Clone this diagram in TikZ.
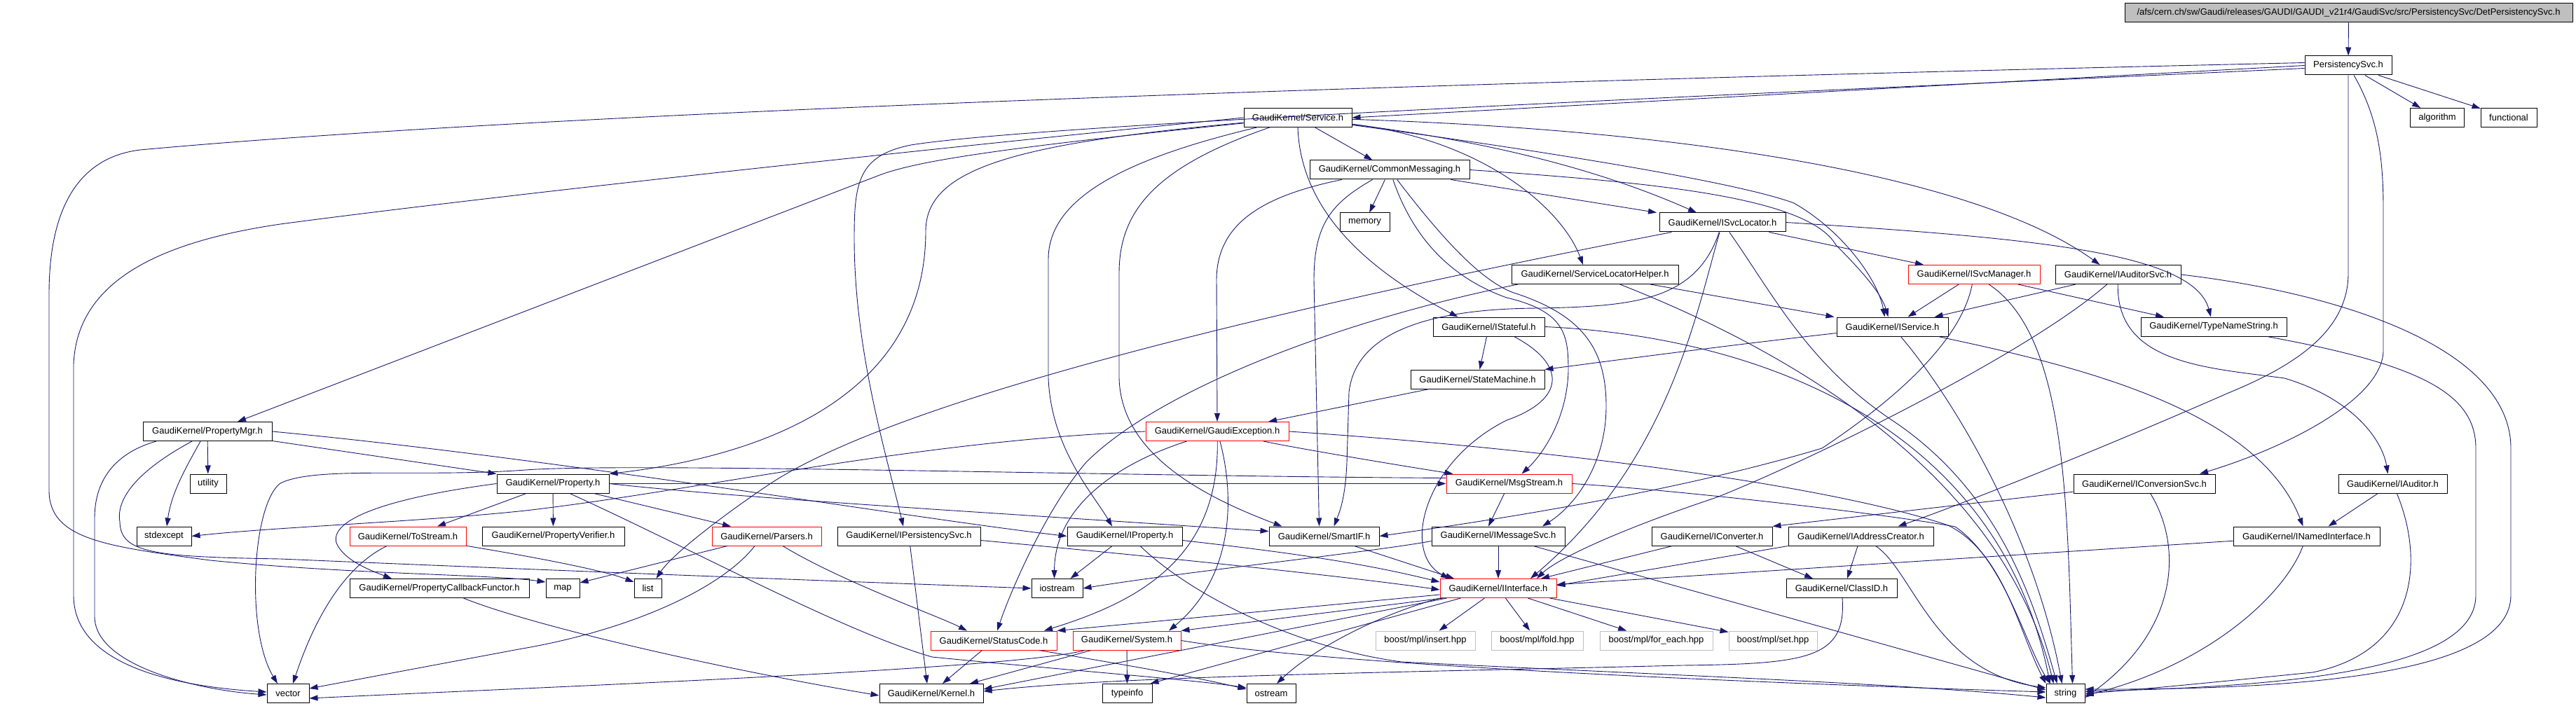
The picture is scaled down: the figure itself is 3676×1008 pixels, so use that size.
\documentclass[tikz,border=0pt]{standalone}
\usepackage{fontspec}
\setsansfont{Liberation Sans}
\usetikzlibrary{arrows.meta}
\definecolor{navy}{RGB}{25,25,112}
\definecolor{boostgray}{RGB}{191,191,191}
\tikzset{
  box/.style={draw=black, line width=1pt, minimum height=27pt, inner sep=0pt, font=\sffamily\fontsize{13}{15}\selectfont},
  redbox/.style={box, draw=red},
  boostbox/.style={box, draw=boostgray},
  dep/.style={draw=navy, line width=0.9pt, -{Triangle[length=12pt,width=8pt]}},
}

\begin{document}
\begin{tikzpicture}[x=1pt, y=-1pt]
\path[use as bounding box, fill=white] (0,0) rectangle (3676,1008);

% rank 0 to 3
\node[box, fill=boostgray, minimum width=639pt] (det) at (3351.5,18.5) {/afs/cern.ch/sw/Gaudi/releases/GAUDI/GAUDI\_v21r4/GaudiSvc/src/PersistencySvc/DetPersistencySvc.h};
\node[box, minimum width=124pt] (psvc) at (3351,93.5) {PersistencySvc.h};
\node[box, minimum width=77pt] (algo) at (3478,168) {algorithm};
\node[box, minimum width=80pt] (func) at (3580,168) {functional};
\node[box, minimum width=154pt] (svc) at (1852,168) {GaudiKernel/Service.h};
\node[box, minimum width=228pt] (cmsg) at (1983,242.5) {GaudiKernel/CommonMessaging.h};
\node[box, minimum width=71pt] (memory) at (1947.5,317.5) {memory};
\node[box, minimum width=180pt] (isvcloc) at (2458,317.5) {GaudiKernel/ISvcLocator.h};
\node[box, minimum width=238pt] (slh) at (2276,392) {GaudiKernel/ServiceLocatorHelper.h};
\node[redbox, minimum width=188pt] (isvcmgr) at (2817,392) {GaudiKernel/ISvcManager.h};
\node[box, minimum width=179pt] (iaudsvc) at (3022.5,392) {GaudiKernel/IAuditorSvc.h};
\node[box, minimum width=159pt] (istateful) at (2124.5,466.5) {GaudiKernel/IStateful.h};
\node[box, minimum width=159pt] (iservice) at (2700.5,466.5) {GaudiKernel/IService.h};
\node[box, minimum width=208pt] (tns) at (3159,466.5) {GaudiKernel/TypeNameString.h};
\node[box, minimum width=191pt] (statem) at (2108.5,541.5) {GaudiKernel/StateMachine.h};
\node[box, minimum width=184pt] (propmgr) at (296,616) {GaudiKernel/PropertyMgr.h};
\node[redbox, minimum width=204pt] (gexc) at (1737,616) {GaudiKernel/GaudiException.h};
\node[box, minimum width=52pt] (utility) at (297,690.5) {utility};
\node[box, minimum width=160pt] (prop) at (789,690.5) {GaudiKernel/Property.h};
\node[redbox, minimum width=179pt] (msgs) at (2153.5,690.5) {GaudiKernel/MsgStream.h};
\node[box, minimum width=202pt] (iconvsvc) at (3060,690.5) {GaudiKernel/IConversionSvc.h};
\node[box, minimum width=155pt] (iaud) at (3414.5,690.5) {GaudiKernel/IAuditor.h};
\node[box, minimum width=78pt] (stdexc) at (234,765.5) {stdexcept};
\node[redbox, minimum width=166pt] (tostream) at (582,765.5) {GaudiKernel/ToStream.h};
\node[box, minimum width=203pt] (propver) at (789.5,765.5) {GaudiKernel/PropertyVerifier.h};
\node[redbox, minimum width=156pt] (parsers) at (1094,765.5) {GaudiKernel/Parsers.h};
\node[box, minimum width=204pt] (ipers) at (1297,765.5) {GaudiKernel/IPersistencySvc.h};
\node[box, minimum width=164pt] (iprop) at (1605,765.5) {GaudiKernel/IProperty.h};
\node[box, minimum width=157pt] (smartif) at (1889.5,765.5) {GaudiKernel/SmartIF.h};
\node[box, minimum width=190pt] (imsgsvc) at (2138,765.5) {GaudiKernel/IMessageSvc.h};
\node[box, minimum width=172pt] (iconv) at (2443,765.5) {GaudiKernel/IConverter.h};
\node[box, minimum width=207pt] (iaddr) at (2655.5,765.5) {GaudiKernel/IAddressCreator.h};
\node[box, minimum width=209pt] (inamed) at (3291.5,765.5) {GaudiKernel/INamedInterface.h};
\node[box, minimum width=256pt] (pcbf) at (627,840) {GaudiKernel/PropertyCallbackFunctor.h};
\node[box, minimum width=48pt] (map) at (803,840) {map};
\node[box, minimum width=39pt] (list) at (924.5,840) {list};
\node[box, minimum width=73pt] (iostream) at (1508.5,840) {iostream};
\node[redbox, minimum width=166pt] (iif) at (2138,840) {GaudiKernel/IInterface.h};
\node[box, minimum width=158pt] (classid) at (2628,840) {GaudiKernel/ClassID.h};
\node[redbox, minimum width=180pt] (statuscode) at (1418,914.5) {GaudiKernel/StatusCode.h};
\node[redbox, minimum width=154pt] (system) at (1608,914.5) {GaudiKernel/System.h};
\node[boostbox, minimum width=142pt] (insert) at (2034,914.5) {boost/mpl/insert.hpp};
\node[boostbox, minimum width=131pt] (fold) at (2193.5,914.5) {boost/mpl/fold.hpp};
\node[boostbox, minimum width=161pt] (foreach) at (2363.5,914.5) {boost/mpl/for\_each.hpp};
\node[boostbox, minimum width=126pt] (mplset) at (2530,914.5) {boost/mpl/set.hpp};
\node[box, minimum width=60pt] (vector) at (411,990) {vector};
\node[box, minimum width=148pt] (kernel) at (1329,990) {GaudiKernel/Kernel.h};
\node[box, minimum width=71pt] (typeinfo) at (1608.5,990) {typeinfo};
\node[box, minimum width=70pt] (ostream) at (1814,990) {ostream};
\node[box, minimum width=55pt] (string) at (2947.5,990) {string};

% PersistencySvc.h
\draw[dep] (det) -- (psvc);
\draw[dep] (psvc) -- (algo);
\draw[dep] (psvc) -- (func);
\draw[dep] (psvc.west) -- (svc.east);
\draw[dep] (psvc) .. controls (3395,170) and (3401,230) .. (3401,300) -- (3401,500) .. controls (3401,570) and (3260,640) .. ([xshift=79pt]iconvsvc.north);
\draw[dep] (psvc.south) -- (3351,390) .. controls (3351,470) and (3280,520) .. (3180,561) .. controls (3000,640) and (2800,720) .. ([xshift=53pt]iaddr.north);
\draw[dep] ([yshift=-4pt]psvc.west) .. controls (2600,130) and (1500,175) .. (1300,207) .. controls (1225,222) and (1219,260) .. (1219,340) .. controls (1219,500) and (1265,650) .. ([xshift=-8pt]ipers.north);
\draw[dep] ([yshift=4pt]psvc.west) .. controls (2400,110) and (900,150) .. (200,214) .. controls (110,225) and (70,300) .. (70,420) -- (70,700) .. controls (70,770) and (150,780) .. (300,800) .. controls (500,820) and (700,820) .. ([yshift=9pt]map.west);

% Service.h
\draw[dep] (svc) -- (cmsg);
\draw[dep] (svc) .. controls (2150,205) and (2300,250) .. ([xshift=-37pt]isvcloc.north);
\draw[dep] (svc) .. controls (2120,200) and (2230,300) .. ([xshift=-17pt]slh.north);
\draw[dep] (svc) .. controls (2200,215) and (2480,260) .. (2560,290) .. controls (2630,330) and (2680,400) .. ([xshift=-11pt]iservice.north);
\draw[dep] (svc) .. controls (2400,185) and (2820,250) .. ([xshift=-26pt]iaudsvc.north);
\draw[dep] (svc.south) .. controls (1856,300) and (1950,385) .. ([xshift=-44pt]istateful.north);
\draw[dep] (svc) .. controls (1400,214) and (1300,232) .. (1250,252) -- ([xshift=43pt]propmgr.north);
\draw[dep] (svc) .. controls (1450,205) and (1321,240) .. (1321,330) .. controls (1321,560) and (1100,650) .. (prop.north east);
\draw[dep] (svc) .. controls (1600,228) and (1496,285) .. (1496,370) -- (1496,540) .. controls (1500,640) and (1560,705) .. ([xshift=-18pt]iprop.north);
\draw[dep] (svc) .. controls (1650,238) and (1597,300) .. (1597,390) -- (1597,540) .. controls (1600,650) and (1720,710) .. ([xshift=-60pt]smartif.north);
\draw[dep] (svc.west) .. controls (1300,215) and (700,280) .. (400,320) .. controls (230,345) and (110,400) .. (105,520) -- (105,850) .. controls (105,950) and (250,980) .. ([yshift=2pt]vector.west);

% CommonMessaging.h
\draw[dep] (cmsg) -- (memory);
\draw[dep] (cmsg) .. controls (1800,280) and (1736,320) .. (1736,400) -- (gexc.north);
\draw[dep] (cmsg) .. controls (1900,290) and (1875,320) .. (1875,400) -- ([xshift=-7pt]smartif.north);
\draw[dep] (cmsg) -- ([xshift=-94pt]isvcloc.north);
\draw[dep] (cmsg.east) .. controls (2350,260) and (2580,280) .. (2620,350) .. controls (2660,390) and (2685,420) .. ([xshift=-6pt]iservice.north);
\draw[dep] (cmsg) .. controls (2020,350) and (2080,400) .. (2150,425) .. controls (2235,445) and (2238,480) .. (2238,530) .. controls (2236,600) and (2200,650) .. ([xshift=18pt]msgs.north);
\draw[dep] (cmsg) .. controls (2050,330) and (2110,400) .. (2160,418) .. controls (2260,450) and (2292,500) .. (2292,580) .. controls (2292,660) and (2250,720) .. ([xshift=63pt]imsgsvc.north);

% ISvcLocator.h, ServiceLocatorHelper.h, ISvcManager.h, IAuditorSvc.h
\draw[dep] (isvcloc) -- ([xshift=-72pt]isvcmgr.north);
\draw[dep] (isvcloc.east) .. controls (2900,340) and (3130,360) .. ([xshift=-4pt]tns.north);
\draw[dep] (isvcloc) .. controls (2420,450) and (2380,660) .. ([xshift=46pt]iif.north);
\draw[dep] (isvcloc) .. controls (2530,420) and (2580,520) .. (2700,600) .. controls (2850,700) and (2900,850) .. ([xshift=-12pt]string.north);
\draw[dep] (isvcloc) .. controls (1900,425) and (1300,560) .. (1100,690) .. controls (1040,730) and (960,790) .. ([xshift=12pt]list.north);
\draw[dep] (isvcloc) .. controls (2420,430) and (2330,437) .. (2200,440) .. controls (2050,440) and (1935,470) .. (1925,560) -- (1922,660) .. controls (1920,710) and (1912,730) .. ([xshift=14pt]smartif.north);
\draw[dep] (slh) -- ([xshift=-83pt]iservice.north);
\draw[dep] (slh) .. controls (2500,480) and (2850,650) .. ([xshift=-17pt]string.north);
\draw[dep] ([xshift=-110pt]slh.south) .. controls (1900,460) and (1650,560) .. (1550,660) .. controls (1490,730) and (1440,850) .. ([xshift=5pt]statuscode.north);
\draw[dep] (isvcmgr) -- ([xshift=22pt]iservice.north);
\draw[dep] (isvcmgr) -- ([xshift=-71pt]tns.north);
\draw[dep] (isvcmgr) .. controls (2800,480) and (2720,560) .. (2600,640) .. controls (2400,700) and (2150,740) .. (smartif.east);
\draw[dep] (isvcmgr) .. controls (2950,480) and (2950,720) .. ([xshift=10pt]string.north);
\draw[dep] (iaudsvc) -- ([xshift=60pt]iservice.north);
\draw[dep] (iaudsvc) .. controls (3020,520) and (3150,525) .. (3260,540) .. controls (3360,570) and (3400,630) .. ([xshift=-7pt]iaud.north);
\draw[dep] (iaudsvc.east) .. controls (3350,420) and (3583,500) .. (3583,640) -- (3583,850) .. controls (3583,960) and (3300,985) .. ([yshift=6pt]string.east);
\draw[dep] (iaudsvc) .. controls (2900,500) and (2600,650) .. (2450,710) .. controls (2300,760) and (2220,800) .. ([xshift=55pt]iif.north);

% IStateful.h, IService.h, TypeNameString.h, StateMachine.h
\draw[dep] (istateful) -- (statem);
\draw[dep] ([xshift=36pt]istateful.south) .. controls (2235,520) and (2235,570) .. (2150,600) .. controls (2030,660) and (2000,790) .. ([xshift=-70pt]iif.north);
\draw[dep] (istateful.east) .. controls (2500,480) and (2850,600) .. ([xshift=-22pt]string.north);
\draw[dep] (iservice) .. controls (2450,495) and (2300,515) .. (statem.north east);
\draw[dep] (iservice) .. controls (2950,520) and (3220,580) .. ([xshift=-5pt]inamed.north);
\draw[dep] (iservice) .. controls (2780,560) and (2900,750) .. ([xshift=-5pt]string.north);
\draw[dep] (tns) .. controls (3450,520) and (3533,560) .. (3533,640) -- (3533,850) .. controls (3533,950) and (3300,980) .. ([yshift=3pt]string.east);
\draw[dep] (statem) -- ([xshift=73pt]gexc.north);

% PropertyMgr.h
\draw[dep] (propmgr) -- (utility);
\draw[dep] ([xshift=-10pt]propmgr.south) .. controls (270,660) and (245,700) .. ([xshift=4pt]stdexc.north);
\draw[dep] (propmgr) -- (prop.north west);
\draw[dep] (propmgr.east) .. controls (800,655) and (1300,740) .. (iprop.west);
\draw[dep] ([xshift=-22pt]propmgr.south) .. controls (200,670) and (165,710) .. (171,745) .. controls (172,790) and (220,795) .. (400,798) .. controls (800,815) and (1200,830) .. (iostream.west);
\draw[dep] ([xshift=-73pt]propmgr.south) .. controls (170,645) and (135,680) .. (135,740) -- (135,880) .. controls (135,950) and (280,985) .. ([yshift=-2pt]vector.west);

% GaudiException.h
\draw[dep] (gexc) .. controls (1600,660) and (1505,720) .. ([xshift=-4pt]iostream.north);
\draw[dep] (gexc) .. controls (1740,800) and (1620,860) .. ([xshift=72pt]statuscode.north);
\draw[dep] (gexc) .. controls (1760,700) and (1765,820) .. ([xshift=60pt]system.north);
\draw[dep] (gexc.east) .. controls (2200,640) and (2600,690) .. (2780,750) .. controls (2860,790) and (2880,900) .. ([xshift=-28pt]string.north);
\draw[dep] (gexc.west) .. controls (1300,630) and (1000,700) .. (750,729) .. controls (600,745) and (400,752) .. (stdexc.east);
\draw[dep] (gexc) .. controls (1850,640) and (2000,665) .. ([xshift=-80pt]msgs.north);

% Property.h
\draw[dep] (prop) -- (propver);
\draw[dep] (prop) -- ([xshift=-51pt]parsers.north);
\draw[dep] (prop) -- ([xshift=42pt]tostream.north);
\draw[dep] (prop.west) .. controls (560,710) and (470,740) .. (480,775) .. controls (490,800) and (530,815) .. ([xshift=-68pt]pcbf.north);
\draw[dep] (prop.east) -- (msgs.west);
\draw[dep] (prop.east) .. controls (1000,705) and (1200,718) .. (1330,727) -- ([yshift=7pt]smartif.west);
\draw[dep] ([xshift=24pt]prop.south) .. controls (1000,790) and (1200,900) .. (1330,938) .. controls (1500,955) and (1700,970) .. ([yshift=8pt]ostream.west);

% MsgStream.h, IMessageSvc.h
\draw[dep] (msgs) -- ([xshift=-14pt]imsgsvc.north);
\draw[dep] (msgs.east) .. controls (2400,700) and (2700,735) .. (2790,752) .. controls (2860,800) and (2890,920) .. ([xshift=-22pt]string.north);
\draw[dep] ([yshift=8pt]msgs.west) .. controls (1600,680) and (900,660) .. (750,671) .. controls (600,682) and (450,665) .. (400,690) .. controls (360,720) and (350,900) .. ([xshift=-15pt]vector.north);
\draw[dep] (imsgsvc) -- (iif);
\draw[dep] ([yshift=-7pt]imsgsvc.west) .. controls (1960,788) and (1700,815) .. (iostream.east);
\draw[dep] ([xshift=50pt]imsgsvc.south) -- ([yshift=5pt]string.west);

% IConversionSvc.h, IAuditor.h, INamedInterface.h, IConverter.h, IAddressCreator.h
\draw[dep] (iconvsvc) -- (iconv.north east);
\draw[dep] (iconvsvc) .. controls (3115,780) and (3110,900) .. ([yshift=-6pt]string.east);
\draw[dep] (iaud) -- ([xshift=31pt]inamed.north);
\draw[dep] (iaud) .. controls (3460,800) and (3450,930) .. (3300,960) .. controls (3150,975) and (3050,985) .. (string.east);
\draw[dep] (inamed) -- (iif);
\draw[dep] (inamed) .. controls (3260,850) and (3150,950) .. ([yshift=-3pt]string.east);
\draw[dep] (iconv) -- ([xshift=61pt]iif.north);
\draw[dep] (iconv) -- ([xshift=-41pt]classid.north);
\draw[dep] (iaddr) -- ([xshift=8pt]classid.north);
\draw[dep] (iaddr) .. controls (2730,815) and (2760,960) .. ([yshift=8pt]string.west);
\draw[dep] (iaddr.south west) -- ([yshift=4pt]iif.east);
\draw[dep] (classid) .. controls (2635,940) and (2580,948) .. (2400,950) .. controls (2000,960) and (1600,965) .. ([yshift=3pt]kernel.east);

% IInterface.h
\draw[dep] (iif) -- (insert);
\draw[dep] (iif) -- (fold);
\draw[dep] (iif) -- (foreach);
\draw[dep] (iif) -- (mplset);
\draw[dep] ([yshift=-9pt]iif.west) -- (statuscode.north east);
\draw[dep] ([xshift=5pt]iif.south west) -- (system.north east);
\draw[dep] ([xshift=10pt]iif.south west) -- ([yshift=6pt]kernel.east);
\draw[dep] ([xshift=30pt]iif.south west) -- ([xshift=-3pt]typeinfo.north east);
\draw[dep] (iif.south west) .. controls (1960,880) and (1870,930) .. ([xshift=8pt]ostream.north);

% SmartIF.h, IProperty.h, IPersistencySvc.h
\draw[dep] (smartif) -- ([xshift=-63pt]iif.north);
\draw[dep] (iprop) -- ([xshift=19pt]iostream.north);
\draw[dep] ([yshift=-6pt]iprop.east) .. controls (1850,790) and (1950,805) .. ([yshift=9pt]iif.west);
\draw[dep] ([xshift=22pt]iprop.south) .. controls (1700,850) and (1850,925) .. (2000,945) .. controls (2400,965) and (2700,975) .. ([yshift=-6pt]string.west);
\draw[dep] (ipers) -- ([xshift=-6pt]kernel.north);
\draw[dep] ([yshift=-6pt]ipers.east) .. controls (1600,790) and (1900,820) .. ([yshift=-2pt]iif.west);

% Parsers.h, ToStream.h, PropertyCallbackFunctor.h
\draw[dep] (parsers) -- ([yshift=8pt]map.east);
\draw[dep] ([xshift=-17pt]parsers.south) .. controls (1030,840) and (900,900) .. (740,927) -- ([yshift=7pt]vector.east);
\draw[dep] (parsers) .. controls (1200,830) and (1340,880) .. ([xshift=-38pt]statuscode.north);
\draw[dep] ([xshift=-30pt]tostream.south) .. controls (510,800) and (460,850) .. ([xshift=7pt]vector.north);
\draw[dep] (tostream) .. controls (700,785) and (850,810) .. ([yshift=9pt]list.west);
\draw[dep] (pcbf) .. controls (750,890) and (1000,950) .. ([yshift=-3pt]kernel.west);

% StatusCode.h, System.h
\draw[dep] (statuscode) -- ([xshift=16pt]kernel.north);
\draw[dep] ([xshift=65pt]statuscode.south) .. controls (1580,945) and (1700,965) .. ([yshift=6pt]ostream.west);
\draw[dep] (system) -- ([xshift=55pt]kernel.north);
\draw[dep] (system) -- (typeinfo);
\draw[dep] ([xshift=-60pt]system.south) .. controls (1450,955) and (800,980) .. ([yshift=-7pt]vector.east);
\draw[dep] (system.east) .. controls (1900,950) and (2500,975) .. ([yshift=2pt]string.west);

\end{tikzpicture}
\end{document}
